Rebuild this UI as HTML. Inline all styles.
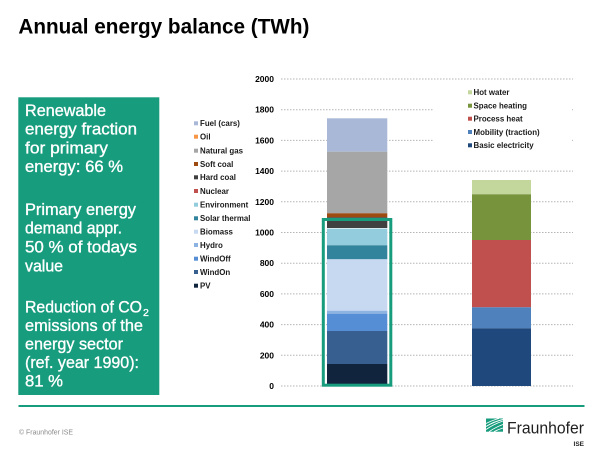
<!DOCTYPE html>
<html>
<head>
<meta charset="utf-8">
<style>
  html,body{margin:0;padding:0;background:#fff;}
  body{width:600px;height:453px;overflow:hidden;}
  svg{display:block;font-family:"Liberation Sans",Arial,sans-serif;}
</style>
</head>
<body>
<svg width="600" height="453" viewBox="0 0 600 453" xmlns="http://www.w3.org/2000/svg">
  <rect x="0" y="0" width="600" height="453" fill="#fff"/>

  <!-- Title -->
  <text x="18.4" y="33.3" font-size="21" font-weight="bold" fill="#000" textLength="291" lengthAdjust="spacingAndGlyphs">Annual energy balance (TWh)</text>

  <!-- Left green info box -->
  <rect x="18.3" y="97.3" width="141" height="297.7" fill="#179c7d"/>
  <g fill="#fff" font-size="16.7" stroke="#fff" stroke-width="0.35">
    <text x="25" y="116" textLength="81" lengthAdjust="spacingAndGlyphs">Renewable</text>
    <text x="25" y="134.7" textLength="112" lengthAdjust="spacingAndGlyphs">energy fraction</text>
    <text x="25" y="153.3" textLength="83" lengthAdjust="spacingAndGlyphs">for primary</text>
    <text x="25" y="172" textLength="98" lengthAdjust="spacingAndGlyphs">energy: 66 %</text>

    <text x="25" y="215" textLength="111" lengthAdjust="spacingAndGlyphs">Primary energy</text>
    <text x="25" y="233.7" textLength="97" lengthAdjust="spacingAndGlyphs">demand appr.</text>
    <text x="25" y="252.5" textLength="112" lengthAdjust="spacingAndGlyphs">50 % of todays</text>
    <text x="25" y="271.5" textLength="38" lengthAdjust="spacingAndGlyphs">value</text>

    <text x="25" y="312.3" textLength="117" lengthAdjust="spacingAndGlyphs">Reduction of CO</text>
    <text x="143" y="316" font-size="10.5">2</text>
    <text x="25" y="330.8" textLength="118" lengthAdjust="spacingAndGlyphs">emissions of the</text>
    <text x="25" y="349.3" textLength="98" lengthAdjust="spacingAndGlyphs">energy sector</text>
    <text x="25" y="367.8" textLength="114" lengthAdjust="spacingAndGlyphs">(ref. year 1990):</text>
    <text x="25" y="386.5" textLength="38" lengthAdjust="spacingAndGlyphs">81 %</text>
  </g>

  <!-- Gridlines -->
  <g stroke="#b5b5b5" stroke-width="1" stroke-dasharray="1.5 1.5">
    <line x1="281" y1="79" x2="573" y2="79"/>
    <line x1="281" y1="109.7" x2="573" y2="109.7"/>
    <line x1="281" y1="140.4" x2="573" y2="140.4"/>
    <line x1="281" y1="171.1" x2="573" y2="171.1"/>
    <line x1="281" y1="201.8" x2="573" y2="201.8"/>
    <line x1="281" y1="232.5" x2="573" y2="232.5"/>
    <line x1="281" y1="263.2" x2="573" y2="263.2"/>
    <line x1="281" y1="293.9" x2="573" y2="293.9"/>
    <line x1="281" y1="324.6" x2="573" y2="324.6"/>
    <line x1="281" y1="355.3" x2="573" y2="355.3"/>
    <line x1="281" y1="386" x2="573" y2="386"/>
  </g>

  <!-- Right legend white background -->
  <rect x="434" y="84" width="137" height="78" fill="#fff"/>

  <!-- Y axis labels -->
  <g font-size="8.5" font-weight="bold" fill="#000" text-anchor="end">
    <text x="274" y="82">2000</text>
    <text x="274" y="112.7">1800</text>
    <text x="274" y="143.4">1600</text>
    <text x="274" y="174.1">1400</text>
    <text x="274" y="204.8">1200</text>
    <text x="274" y="235.5">1000</text>
    <text x="274" y="266.2">800</text>
    <text x="274" y="296.9">600</text>
    <text x="274" y="327.6">400</text>
    <text x="274" y="358.3">200</text>
    <text x="274" y="389">0</text>
  </g>

  <!-- Left stacked bar -->
  <g>
    <rect x="327" y="118.3" width="60.3" height="33.4" fill="#a9b8d7"/>
    <rect x="327" y="151.7" width="60.3" height="61.6" fill="#a6a6a6"/>
    <rect x="327" y="213.3" width="60.3" height="4" fill="#9c4a10"/>
    <rect x="327" y="217.3" width="60.3" height="10.7" fill="#404040"/>
    <rect x="327" y="228.6" width="60.3" height="16.7" fill="#93cddd"/>
    <rect x="327" y="245.3" width="60.3" height="14" fill="#31849b"/>
    <rect x="327" y="259.3" width="60.3" height="51.4" fill="#c6d9f0"/>
    <rect x="327" y="310.7" width="60.3" height="3" fill="#8db3e2"/>
    <rect x="327" y="313.7" width="60.3" height="17.3" fill="#558ed5"/>
    <rect x="327" y="331" width="60.3" height="33" fill="#376091"/>
    <rect x="327" y="364" width="60.3" height="22" fill="#10243e"/>
  </g>

  <!-- Green highlight outline -->
  <rect x="323.3" y="219.5" width="67.5" height="165.7" fill="none" stroke="#179c7d" stroke-width="3"/>

  <!-- Right stacked bar -->
  <g>
    <rect x="472" y="180" width="59" height="14.3" fill="#c3d69b"/>
    <rect x="472" y="194.3" width="59" height="45.7" fill="#77933c"/>
    <rect x="472" y="240" width="59" height="67.3" fill="#c0504d"/>
    <rect x="472" y="307.3" width="59" height="21" fill="#4f81bd"/>
    <rect x="472" y="328.3" width="59" height="57.7" fill="#1f497d"/>
  </g>

  <!-- Left legend -->
  <g font-size="7.9" font-weight="bold" fill="#1a1a1a">
    <rect x="194" y="121.3" width="4" height="4" fill="#a9b8d7"/><text x="200" y="126.2">Fuel (cars)</text>
    <rect x="194" y="134.7" width="4" height="4" fill="#f79646"/><text x="200" y="139.6">Oil</text>
    <rect x="194" y="148.7" width="4" height="4" fill="#a6a6a6"/><text x="200" y="153.6">Natural gas</text>
    <rect x="194" y="162" width="4" height="4" fill="#9c4a10"/><text x="200" y="166.9">Soft coal</text>
    <rect x="194" y="175.3" width="4" height="4" fill="#404040"/><text x="200" y="180.2">Hard coal</text>
    <rect x="194" y="189" width="4" height="4" fill="#c0504d"/><text x="200" y="193.9">Nuclear</text>
    <rect x="194" y="202.7" width="4" height="4" fill="#93cddd"/><text x="200" y="207.6">Environment</text>
    <rect x="194" y="216.3" width="4" height="4" fill="#31849b"/><text x="200" y="221.2">Solar thermal</text>
    <rect x="194" y="229.7" width="4" height="4" fill="#c6d9f0"/><text x="200" y="234.6">Biomass</text>
    <rect x="194" y="243" width="4" height="4" fill="#8db3e2"/><text x="200" y="247.9">Hydro</text>
    <rect x="194" y="256.7" width="4" height="4" fill="#558ed5"/><text x="200" y="261.6">WindOff</text>
    <rect x="194" y="270" width="4" height="4" fill="#376091"/><text x="200" y="274.9">WindOn</text>
    <rect x="194" y="283.7" width="4" height="4" fill="#10243e"/><text x="200" y="288.6">PV</text>
  </g>

  <!-- Right legend -->
  <g font-size="7.9" font-weight="bold" fill="#1a1a1a">
    <rect x="468" y="90.3" width="4" height="4" fill="#c3d69b"/><text x="473.5" y="95.2">Hot water</text>
    <rect x="468" y="103.7" width="4" height="4" fill="#77933c"/><text x="473.5" y="108.6">Space heating</text>
    <rect x="468" y="116.7" width="4" height="4" fill="#c0504d"/><text x="473.5" y="121.6">Process heat</text>
    <rect x="468" y="130" width="4" height="4" fill="#4f81bd"/><text x="473.5" y="134.9">Mobility (traction)</text>
    <rect x="468" y="143.3" width="4" height="4" fill="#1f497d"/><text x="473.5" y="148.2">Basic electricity</text>
  </g>

  <!-- Footer line -->
  <rect x="18.5" y="405" width="566" height="2" fill="#179c7d"/>

  <!-- Copyright -->
  <text x="19" y="434.7" font-size="7" fill="#8a8a8a" textLength="54" lengthAdjust="spacingAndGlyphs">© Fraunhofer ISE</text>

  <!-- Fraunhofer logo -->
  <g>
    <rect x="486" y="418.5" width="17" height="13.2" fill="#179c7d"/>
    <g stroke="#fff" stroke-width="0.9" fill="none">
      <path d="M486 429.5 Q494 424 503 421"/>
      <path d="M486 426.5 Q494 421.5 503 419.5"/>
      <path d="M486 423.5 Q493 420 499 418.5"/>
      <path d="M489 431.7 Q496 427 503 424.5"/>
      <path d="M494 431.7 Q498 429.5 503 428"/>
    </g>
    <text x="507" y="433.3" font-size="17" fill="#1f1f1f" textLength="77" lengthAdjust="spacingAndGlyphs">Fraunhofer</text>
    <text x="584" y="446" font-size="6.5" font-weight="bold" fill="#1f1f1f" text-anchor="end">ISE</text>
  </g>
</svg>
</body>
</html>
